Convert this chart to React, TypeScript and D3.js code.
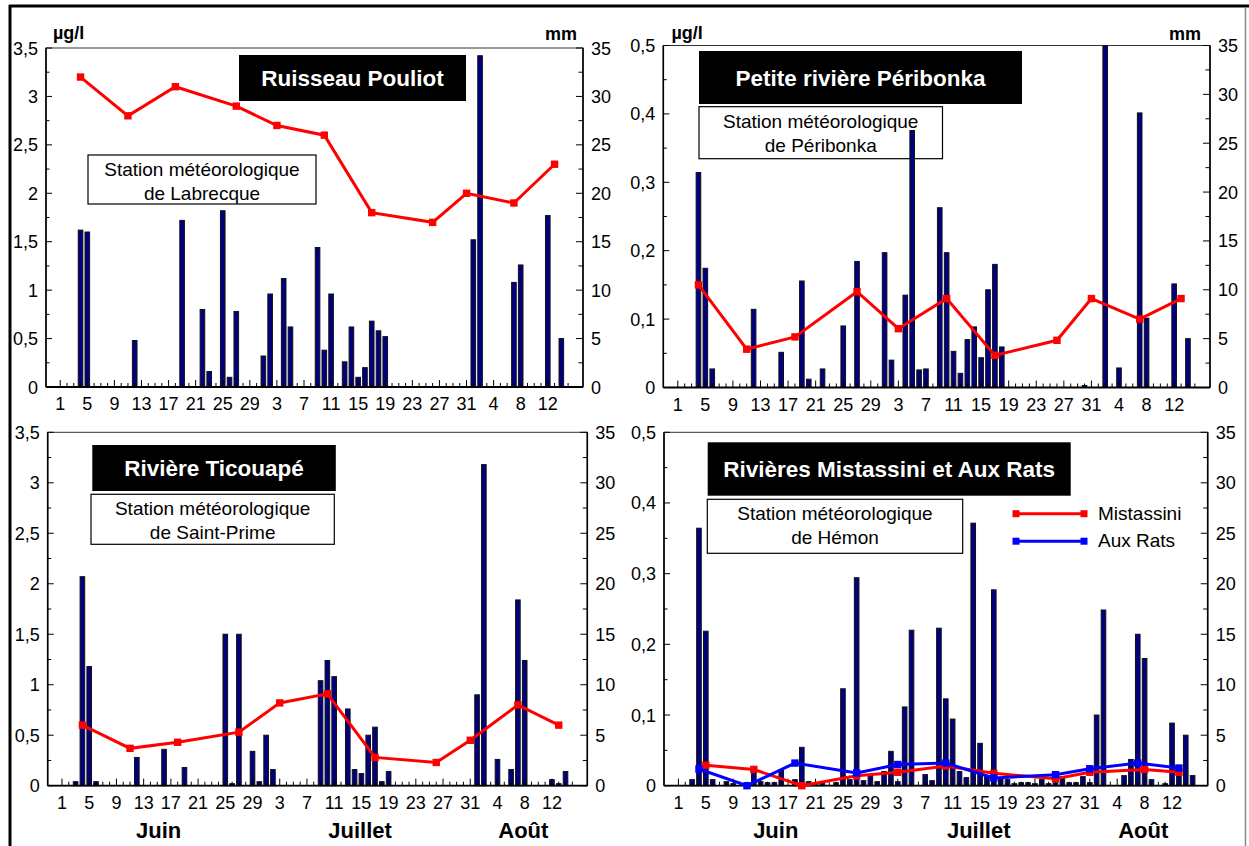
import React from "react";
import * as d3 from "d3";

const W = 1249;
const H = 846;
const FONT = "'Liberation Sans', Arial, Helvetica, sans-serif";

// ---- calendar helpers (index 0 = 1 June) ----
const MONTH_OFFSET: Record<string, number> = { "06": 0, "07": 30, "08": 61 };
const dayIndex = (s: string) => MONTH_OFFSET[s.slice(0, 2)] + Number(s.slice(3)) - 1;

const xTickLabels = ["1", "5", "9", "13", "17", "21", "25", "29", "3", "7", "11", "15", "19", "23", "27", "31", "4", "8", "12"];
const monthNames = ["Juin", "Juillet", "Août"];
const monthLabelDay = [14.2, 43.8, 67.8];
const rightTicks = [0, 5, 10, 15, 20, 25, 30, 35];

// ---- sampling dates ----
const sampleDates = ["06-04", "06-11", "06-18", "06-27", "07-03", "07-10", "07-17", "07-26", "07-31", "08-07", "08-13"];
const mistassiniDates = ["06-05", "06-12", "06-19", "06-27", "07-03", "07-10", "07-17", "07-26", "07-31", "08-08", "08-13"];

// ---- Ruisseau Pouliot (Labrecque) ----
const pouliotConc = [3.2, 2.8, 3.1, 2.9, 2.7, 2.6, 1.8, 1.7, 2.0, 1.9, 2.3];
const labrecqueRainDates = ["06-04", "06-05", "06-12", "06-19", "06-22", "06-23", "06-25", "06-26", "06-27", "07-01", "07-02", "07-04", "07-05", "07-09", "07-10", "07-11", "07-13", "07-14", "07-15", "07-16", "07-17", "07-18", "07-19", "08-01", "08-02", "08-07", "08-08", "08-12", "08-14"];
const labrecqueRainMm = [16.2, 16.0, 4.8, 17.2, 8.0, 1.6, 18.2, 1.0, 7.8, 3.2, 9.6, 11.2, 6.2, 14.4, 3.8, 9.6, 2.6, 6.2, 1.0, 2.0, 6.8, 5.8, 5.2, 15.2, 34.2, 10.8, 12.6, 17.7, 5.0];

// ---- Petite rivière Péribonka (Péribonka) ----
const peribonkaConc = [0.15, 0.056, 0.074, 0.14, 0.086, 0.13, 0.047, 0.069, 0.13, 0.1, 0.13];
const peribonkaRainDates = ["06-04", "06-05", "06-06", "06-12", "06-16", "06-19", "06-20", "06-22", "06-25", "06-27", "07-01", "07-02", "07-04", "07-05", "07-06", "07-07", "07-09", "07-10", "07-11", "07-12", "07-13", "07-14", "07-15", "07-16", "07-17", "07-18", "07-30", "08-02", "08-04", "08-07", "08-08", "08-12", "08-14"];
const peribonkaRainMm = [22.0, 12.2, 1.9, 8.0, 3.6, 10.9, 0.85, 1.9, 6.3, 12.9, 13.8, 2.8, 9.45, 26.3, 1.8, 1.9, 18.4, 13.8, 3.7, 1.45, 4.9, 6.2, 3.05, 10.0, 12.6, 4.15, 0.2, 35, 2.0, 28.1, 7.1, 10.6, 5.0];

// ---- Rivière Ticouapé (Saint-Prime) ----
const ticouapeConc = [0.6, 0.37, 0.43, 0.53, 0.82, 0.91, 0.28, 0.23, 0.45, 0.8, 0.6];
const saintPrimeRainDates = ["06-03", "06-04", "06-05", "06-06", "06-12", "06-16", "06-19", "06-25", "06-26", "06-27", "06-29", "06-30", "07-01", "07-02", "07-09", "07-10", "07-11", "07-13", "07-14", "07-15", "07-16", "07-17", "07-18", "07-19", "08-01", "08-02", "08-04", "08-06", "08-07", "08-08", "08-12", "08-13", "08-14"];
const saintPrimeRainMm = [0.4, 20.7, 11.8, 0.4, 2.8, 3.6, 1.8, 15.0, 0.2, 15.0, 3.4, 0.4, 5.0, 1.6, 10.4, 12.4, 10.8, 7.6, 1.6, 1.2, 5.0, 5.8, 0.4, 1.4, 9.0, 31.8, 2.6, 1.6, 18.4, 12.4, 0.6, 0.2, 1.4];

// ---- Rivières Mistassini et Aux Rats (Hémon) ----
const mistassiniConc = [0.029, 0.023, 0.0, 0.014, 0.019, 0.028, 0.0175, 0.01, 0.019, 0.023, 0.019];
const auxRatsConc = [0.0236, 0.0, 0.032, 0.018, 0.03, 0.032, 0.011, 0.0156, 0.024, 0.032, 0.025];
const hemonRainDates = ["06-03", "06-04", "06-05", "06-06", "06-08", "06-09", "06-12", "06-13", "06-14", "06-15", "06-16", "06-18", "06-19", "06-20", "06-21", "06-22", "06-24", "06-25", "06-26", "06-27", "06-28", "06-29", "06-30", "07-01", "07-02", "07-03", "07-04", "07-05", "07-07", "07-08", "07-09", "07-10", "07-11", "07-12", "07-13", "07-14", "07-15", "07-16", "07-17", "07-18", "07-19", "07-20", "07-21", "07-22", "07-23", "07-24", "07-25", "07-26", "07-27", "07-28", "07-29", "07-30", "07-31", "08-01", "08-02", "08-05", "08-06", "08-07", "08-08", "08-09", "08-11", "08-12", "08-13", "08-14", "08-15"];
const hemonRainMm = [0.6, 25.5, 15.3, 0.6, 0.4, 0.2, 1.8, 0.4, 0.3, 0.3, 1.5, 0.6, 3.8, 0.4, 0.3, 0.3, 0.3, 9.6, 0.6, 20.6, 0.5, 1.0, 0.4, 1.4, 3.4, 0.4, 7.8, 15.4, 1.1, 0.5, 15.6, 8.6, 6.6, 1.4, 0.8, 26.0, 4.2, 1.0, 19.4, 0.8, 0.6, 0.2, 0.3, 0.3, 0.2, 0.6, 0.2, 0.3, 0.9, 0.3, 0.3, 0.9, 0.3, 7.0, 17.4, 1.0, 2.6, 15.0, 12.6, 0.6, 0.2, 6.2, 1.2, 5.0, 1.0];

const X_MIN = -2.1;
const X_MAX = 77.2;

type Series = { dates: string[]; values: number[]; color: string };

type PanelProps = {
  x0: number; x1: number; y0: number; y1: number;
  leftMax: number; leftStep: number;
  rainDates: string[]; rainMm: number[];
  series: Series[];
  title: { text: string; x: number; y: number; w: number; h: number };
  station: { lines: string[]; x: number; y: number; w: number; h: number };
  units?: { ug: [number, number]; mm: [number, number] };
  months?: boolean;
  legend?: { names: string[]; colors: string[]; x: number; y: number };
};

const fmt = (v: number) => String(+v.toFixed(3)).replace(".", ",");

function Panel(p: PanelProps) {
  const x = d3.scaleLinear().domain([X_MIN, X_MAX]).range([p.x0, p.x1]);
  const yL = d3.scaleLinear().domain([0, p.leftMax]).range([p.y1, p.y0]);
  const yR = d3.scaleLinear().domain([0, 35]).range([p.y1, p.y0]);
  const nL = Math.round(p.leftMax / p.leftStep);
  const leftTicks = d3.range(0, nL + 1).map((k) => k * p.leftStep);
  const leftMinor = d3.range(0, nL).map((k) => (k + 0.5) * p.leftStep);
  const rightMinor = d3.range(0, 7).map((k) => k * 5 + 2.5);
  const days = d3.range(0, 76);
  const bw = 4.6;
  const line = d3
    .line<[number, number]>()
    .x((d) => d[0])
    .y((d) => d[1]);

  return (
    <g>
      {/* frame */}
      <rect x={p.x0} y={p.y0} width={p.x1 - p.x0} height={p.y1 - p.y0} fill="white" stroke="#333" strokeWidth={1} />
      {/* title */}
      <rect x={p.title.x} y={p.title.y} width={p.title.w} height={p.title.h} fill="#000" />
      <text x={p.title.x + p.title.w / 2} y={p.title.y + p.title.h / 2 + 8} textAnchor="middle" fontSize={22.5} fontWeight="bold" fontFamily={FONT} fill="#fff">
        {p.title.text}
      </text>
      {/* station box */}
      <rect x={p.station.x} y={p.station.y} width={p.station.w} height={p.station.h} fill="#fff" stroke="#000" strokeWidth={1.2} />
      {p.station.lines.map((l, i) => (
        <text key={"st" + i} x={p.station.x + p.station.w / 2} y={p.station.y + 21 + i * 24} textAnchor="middle" fontSize={19} fontFamily={FONT} fill="#000">
          {l}
        </text>
      ))}
      {/* bars */}
      {p.rainDates.map((d, i) => {
        const v = Math.min(35, p.rainMm[i]);
        const cx = x(dayIndex(d));
        return (
          <rect key={"b" + i} x={cx - bw / 2} y={yR(v)} width={bw} height={yR(0) - yR(v)} fill="#000080" stroke="#111" strokeWidth={1} />
        );
      })}
      {/* x ticks */}
      {days.map((d) => {
        const major = d % 4 === 0;
        return <line key={"xt" + d} x1={x(d)} x2={x(d)} y1={p.y1} y2={p.y1 - (major ? 7 : 4)} stroke="#000" strokeWidth={1} />;
      })}
      {xTickLabels.map((t, i) => (
        <text key={"xl" + i} x={x(i * 4)} y={p.y1 + 23} textAnchor="middle" fontSize={18} fontFamily={FONT} fill="#000">
          {t}
        </text>
      ))}
      {/* left axis */}
      {leftTicks.map((v, i) => (
        <g key={"lt" + i}>
          <line x1={p.x0} x2={p.x0 + 6} y1={yL(v)} y2={yL(v)} stroke="#000" strokeWidth={1} />
          <text x={p.x0 - 8} y={yL(v) + 6.5} textAnchor="end" fontSize={18} fontFamily={FONT} fill="#000">
            {fmt(v)}
          </text>
        </g>
      ))}
      {leftMinor.map((v, i) => (
        <line key={"lm" + i} x1={p.x0} x2={p.x0 + 3.5} y1={yL(v)} y2={yL(v)} stroke="#000" strokeWidth={1} />
      ))}
      {/* right axis */}
      {rightTicks.map((v, i) => (
        <g key={"rt" + i}>
          <line x1={p.x1} x2={p.x1 - 7} y1={yR(v)} y2={yR(v)} stroke="#000" strokeWidth={1} />
          <text x={p.x1 + 8} y={yR(v) + 6.5} textAnchor="start" fontSize={18} fontFamily={FONT} fill="#000">
            {v}
          </text>
        </g>
      ))}
      {rightMinor.map((v, i) => (
        <line key={"rm" + i} x1={p.x1} x2={p.x1 - 4.5} y1={yR(v)} y2={yR(v)} stroke="#000" strokeWidth={1} />
      ))}
      {/* axes lines */}
      <line x1={p.x0} x2={p.x0} y1={p.y0} y2={p.y1} stroke="#000" strokeWidth={1.6} />
      <line x1={p.x1} x2={p.x1} y1={p.y0} y2={p.y1} stroke="#000" strokeWidth={1.6} />
      <line x1={p.x0} x2={p.x1} y1={p.y1} y2={p.y1} stroke="#000" strokeWidth={1.8} />
      {/* concentration lines */}
      {p.series.map((s, si) => {
        const pts: [number, number][] = s.dates.map((d, i) => [x(dayIndex(d)), yL(s.values[i])]);
        return (
          <g key={"s" + si}>
            <path d={line(pts) || ""} fill="none" stroke={s.color} strokeWidth={3} />
            {pts.map((pt, i) => (
              <rect key={i} x={pt[0] - 3.7} y={pt[1] - 3.7} width={7.4} height={7.4} fill={s.color} />
            ))}
          </g>
        );
      })}
      {/* units */}
      {p.units && (
        <g fontFamily={FONT} fontWeight="bold" fontSize={18} fill="#000">
          <text x={p.units.ug[0]} y={p.units.ug[1]} textAnchor="start">µg/l</text>
          <text x={p.units.mm[0]} y={p.units.mm[1]} textAnchor="end">mm</text>
        </g>
      )}
      {p.months &&
        monthNames.map((m, i) => (
          <text key={"m" + i} x={x(monthLabelDay[i])} y={p.y1 + 52} textAnchor="middle" fontSize={22} fontWeight="bold" fontFamily={FONT} fill="#000">
            {m}
          </text>
        ))}
      {p.legend && (
        <g>
          {p.legend.names.map((n, i) => {
            const ly = p.legend!.y + i * 27.5;
            const lx = p.legend!.x;
            const c = p.legend!.colors[i];
            return (
              <g key={"lg" + i}>
                <line x1={lx} x2={lx + 68} y1={ly} y2={ly} stroke={c} strokeWidth={3} />
                <rect x={lx - 3.5} y={ly - 3.5} width={7} height={7} fill={c} />
                <rect x={lx + 68 - 3.5} y={ly - 3.5} width={7} height={7} fill={c} />
                <text x={lx + 82} y={ly + 6} fontSize={19} fontFamily={FONT} fill="#000">
                  {n}
                </text>
              </g>
            );
          })}
        </g>
      )}
    </g>
  );
}

export default function App() {
  return (
    <svg width={W} height={H} viewBox={`0 0 ${W} ${H}`} style={{ display: "block", position: "absolute", left: 0, top: 0, background: "#fff" }}>
      <rect x={0} y={0} width={W} height={H} fill="#fff" />
      <Panel
        x0={46} x1={583} y0={48} y1={387}
        leftMax={3.5} leftStep={0.5}
        rainDates={labrecqueRainDates} rainMm={labrecqueRainMm}
        series={[{ dates: sampleDates, values: pouliotConc, color: "#ff0000" }]}
        title={{ text: "Ruisseau Pouliot", x: 239, y: 55, w: 227, h: 46 }}
        station={{ lines: ["Station météorologique", "de Labrecque"], x: 88, y: 155, w: 228, h: 49 }}
        units={{ ug: [53, 39], mm: [577, 40] }}
      />
      <Panel
        x0={663.3} x1={1210} y0={45.5} y1={387.5}
        leftMax={0.5} leftStep={0.1}
        rainDates={peribonkaRainDates} rainMm={peribonkaRainMm}
        series={[{ dates: sampleDates, values: peribonkaConc, color: "#ff0000" }]}
        title={{ text: "Petite rivière Péribonka", x: 699, y: 51, w: 323, h: 53 }}
        station={{ lines: ["Station météorologique", "de Péribonka"], x: 699, y: 106.7, w: 243.5, h: 52 }}
        units={{ ug: [671.5, 39], mm: [1201, 40] }}
      />
      <Panel
        x0={47.7} x1={587.3} y0={432.3} y1={785.7}
        leftMax={3.5} leftStep={0.5}
        rainDates={saintPrimeRainDates} rainMm={saintPrimeRainMm}
        series={[{ dates: sampleDates, values: ticouapeConc, color: "#ff0000" }]}
        title={{ text: "Rivière Ticouapé", x: 92.3, y: 445, w: 243.5, h: 46 }}
        station={{ lines: ["Station météorologique", "de Saint-Prime"], x: 91, y: 494.3, w: 243.3, h: 50 }}
        months
      />
      <Panel
        x0={664} x1={1207.7} y0={432.3} y1={785.7}
        leftMax={0.5} leftStep={0.1}
        rainDates={hemonRainDates} rainMm={hemonRainMm}
        series={[
          { dates: mistassiniDates, values: mistassiniConc, color: "#ff0000" },
          { dates: sampleDates, values: auxRatsConc, color: "#0000ff" },
        ]}
        title={{ text: "Rivières Mistassini et Aux Rats", x: 707.7, y: 442.3, w: 363, h: 53.4 }}
        station={{ lines: ["Station météorologique", "de Hémon"], x: 707.3, y: 499.3, w: 255.4, h: 54 }}
        months
        legend={{ names: ["Mistassini", "Aux Rats"], colors: ["#ff0000", "#0000ff"], x: 1016, y: 513.7 }}
      />
      {/* outer figure border */}
      <line x1={9} x2={W} y1={6} y2={6} stroke="#000" strokeWidth={3} />
      <line x1={10} x2={10} y1={5} y2={H} stroke="#000" strokeWidth={3} />
      <line x1={1245.5} x2={1245.5} y1={7} y2={H} stroke="#888" strokeWidth={1.5} />
    </svg>
  );
}
